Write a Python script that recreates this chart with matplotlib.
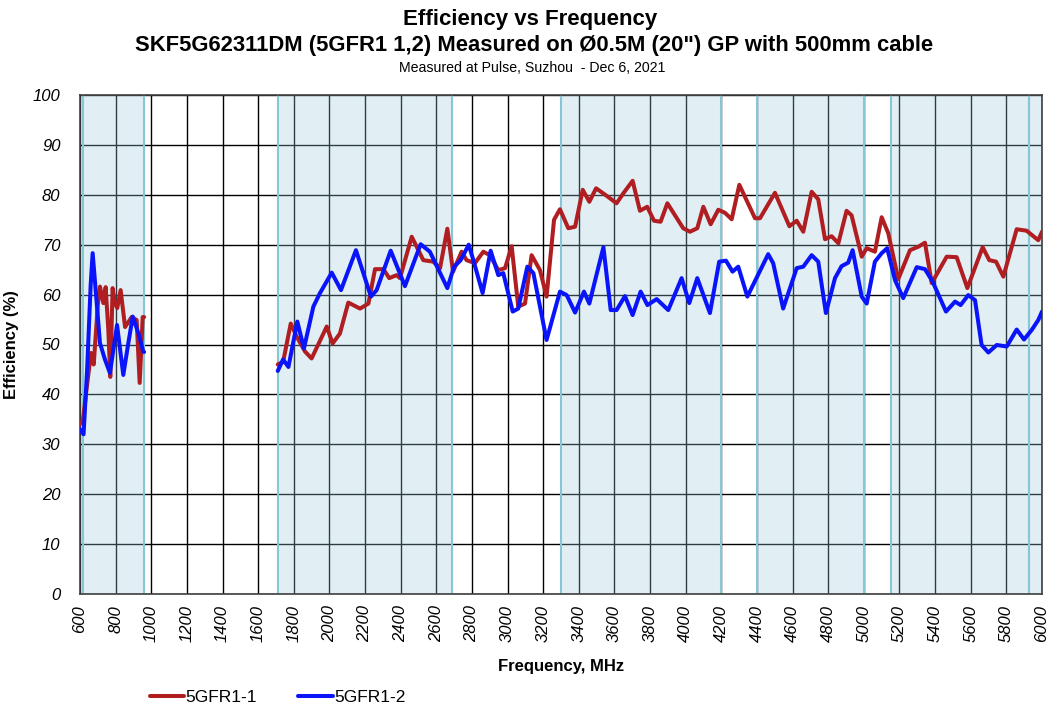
import numpy as np
import matplotlib
matplotlib.use("Agg")
import matplotlib.pyplot as plt

plt.rcParams["font.family"] = ["Liberation Sans", "DejaVu Sans"]

# --- data (MHz, efficiency %) ---
freq_1 = [600, 617, 640, 662, 677, 700, 712, 731, 744, 759, 770, 783, 796, 809, 828,
          853, 890, 918, 935, 952, 960,
          np.nan,
          1710, 1740, 1783, 1816, 1863, 1900, 1985, 2018, 2059, 2106, 2172, 2219, 2256,
          2303, 2336, 2377, 2396, 2462, 2527, 2583, 2621, 2662, 2694, 2742, 2770, 2817,
          2864, 2901, 2948, 2986, 3023, 3060, 3098, 3135, 3182, 3219, 3261, 3294, 3341,
          3379, 3422, 3459, 3497, 3556, 3612, 3650, 3702, 3743, 3784, 3822, 3859, 3897,
          3986, 4024, 4065, 4099, 4140, 4183, 4220, 4258, 4301, 4389, 4417, 4501, 4582,
          4623, 4660, 4707, 4744, 4782, 4819, 4857, 4903, 4931, 4988, 5016, 5062, 5100,
          5137, 5193, 5259, 5306, 5343, 5381, 5465, 5521, 5581, 5667, 5704, 5742, 5783,
          5858, 5914, 5979, 6000]
eff_1 = [34, 35, 42, 48.3, 46, 58, 61.6, 58.3, 61.5, 52.9, 43.5, 61.3, 58.3, 57.3, 60.9,
         53.5, 55.5, 54.9, 42.3, 55.5, 55.5,
         np.nan,
         46, 46.5, 54.2, 51.6, 48.6, 47.2, 53.6, 50.2, 52.2, 58.4, 57.2, 58.2, 65.1,
         65.1, 63.3, 63.9, 63.3, 71.6, 66.9, 66.6, 65.3, 73.2, 64.6, 68.6, 66.9, 66.3,
         68.6, 67.9, 64.9, 65.3, 69.7, 57.6, 58.2, 67.9, 64.9, 59.6, 75.0, 77.1, 73.3,
         73.6, 81.0, 78.6, 81.3, 79.8, 78.3, 80.3, 82.8, 76.8, 77.6, 74.8, 74.6, 78.3,
         73.3, 72.6, 73.3, 77.6, 74.1, 77.0, 76.4, 75.1, 82.0, 75.3, 75.3, 80.4, 73.7,
         74.8, 72.6, 80.6, 79.1, 71.1, 71.7, 70.3, 76.8, 75.9, 67.6, 69.3, 68.6, 75.5,
         72.3, 63.1, 68.9, 69.6, 70.4, 62.3, 67.6, 67.5, 61.3, 69.5, 66.9, 66.6, 63.6,
         73.1, 72.8, 70.9, 72.6]

freq_2 = [600, 620, 640, 660, 671, 690, 712, 740, 768, 808, 843, 870, 896, 930, 955, 960,
          np.nan,
          1710, 1740, 1770, 1820, 1857, 1910, 1947, 2013, 2065, 2149, 2233, 2265, 2344,
          2424, 2512, 2564, 2662, 2700, 2737, 2782, 2808, 2860, 2905, 2948, 2976, 3029,
          3060, 3111, 3145, 3219, 3294, 3332, 3379, 3429, 3459, 3538, 3579, 3612, 3659,
          3702, 3747, 3785, 3837, 3902, 3977, 4020, 4065, 4136, 4188, 4226, 4263, 4295,
          4346, 4463, 4491, 4547, 4623, 4660, 4707, 4744, 4787, 4838, 4875, 4912, 4937,
          4988, 5016, 5062, 5100, 5131, 5175, 5221, 5297, 5343, 5386, 5461, 5512, 5543,
          5586, 5624, 5661, 5699, 5746, 5802, 5858, 5899, 5942, 5979, 6000]
eff_2 = [33, 32, 45, 62, 68.3, 60, 50.3, 47, 44.3, 53.9, 43.9, 50, 55.6, 52, 48.6, 48.5,
         np.nan,
         44.7, 47, 45.5, 54.6, 49.2, 57.6, 60.3, 64.4, 60.9, 68.9, 59.6, 60.9, 68.8,
         61.7, 70.1, 68.6, 61.3, 65.6, 66.9, 70.0, 66.9, 60.3, 68.8, 63.9, 64.3, 56.6,
         57.2, 65.6, 64.3, 50.9, 60.6, 59.9, 56.4, 60.6, 58.2, 69.5, 56.9, 56.9, 59.7,
         55.9, 60.6, 57.9, 59.1, 56.9, 63.3, 58.3, 63.3, 56.3, 66.6, 66.8, 64.6, 65.6,
         59.6, 68.1, 66.3, 57.2, 65.3, 65.6, 67.9, 66.6, 56.3, 63.3, 65.7, 66.4, 68.9,
         59.6, 58.2, 66.6, 68.3, 69.3, 62.9, 59.3, 65.5, 65.1, 62.6, 56.6, 58.6, 57.9,
         59.9, 58.9, 49.9, 48.4, 49.9, 49.6, 53.0, 51.0, 52.9, 54.9, 56.6]

# shaded frequency bands (MHz)
band_lo = [617, 1710, 3300, 4400, 5150, 5925]
band_hi = [960, 2690, 4200, 5000, 5925, 6000]

fig = plt.figure(figsize=(10.48, 7.04), dpi=100)
ax = fig.add_axes([80 / 1048, 1 - 594 / 704, 962 / 1048, 499 / 704])

ax.set_xlim(600, 6000)
ax.set_ylim(0, 100)
ax.set_xticks(np.arange(600, 6001, 200))
ax.set_yticks(np.arange(0, 101, 10))
ax.grid(True, color="black", linewidth=1.0, zorder=1)
ax.set_axisbelow(True)

for lo, hi in zip(band_lo, band_hi):
    ax.axvspan(lo, hi, facecolor="#9ECDDE", alpha=0.3, edgecolor="none", zorder=2)
    for edge in (lo, hi):
        if edge < 6000:
            ax.axvline(edge, color="#86C6D6", linewidth=1.5, zorder=2.5)

ax.plot(freq_1, eff_1, color="#B01E22", linewidth=2.9, solid_joinstyle="round",
        solid_capstyle="round", label="5GFR1-1", zorder=4)
ax.plot(freq_2, eff_2, color="#0A14FA", linewidth=2.9, solid_joinstyle="round",
        solid_capstyle="round", label="5GFR1-2", zorder=5)

for s in ax.spines.values():
    s.set_color("#404040")
    s.set_linewidth(1.2)
ax.tick_params(axis="y", length=0, pad=14)
ax.tick_params(axis="x", length=0, pad=8)
for lbl in ax.get_yticklabels():
    lbl.set_fontsize(12)
    lbl.set_fontstyle("italic")
for lbl in ax.get_xticklabels():
    lbl.set_fontsize(12)
    lbl.set_fontstyle("italic")
    lbl.set_rotation(90)
    lbl.set_va("top")

ax.set_xlabel("Frequency, MHz", fontsize=12, fontweight="bold", labelpad=12)
ax.set_ylabel("Efficiency (%)", fontsize=12, fontweight="bold", labelpad=10)

fig.text(0.506, 1 - 20 / 704, "Efficiency vs Frequency", ha="center", va="center",
         fontsize=16, fontweight="bold")
fig.text(0.51, 1 - 45 / 704, 'SKF5G62311DM (5GFR1 1,2) Measured on Ø0.5M (20") GP with 500mm cable',
         ha="center", va="center", fontsize=15.8, fontweight="bold")
fig.text(0.508, 1 - 68 / 704, "Measured at Pulse, Suzhou  - Dec 6, 2021", ha="center",
         va="center", fontsize=10.2)

fig.legend(loc="center left", bbox_to_anchor=(134 / 1048, 1 - 697 / 704), ncol=2,
           frameon=False, fontsize=12.5, handlelength=2.0, handletextpad=0.05,
           columnspacing=2.4)

fig.savefig("out.png", dpi=100)
